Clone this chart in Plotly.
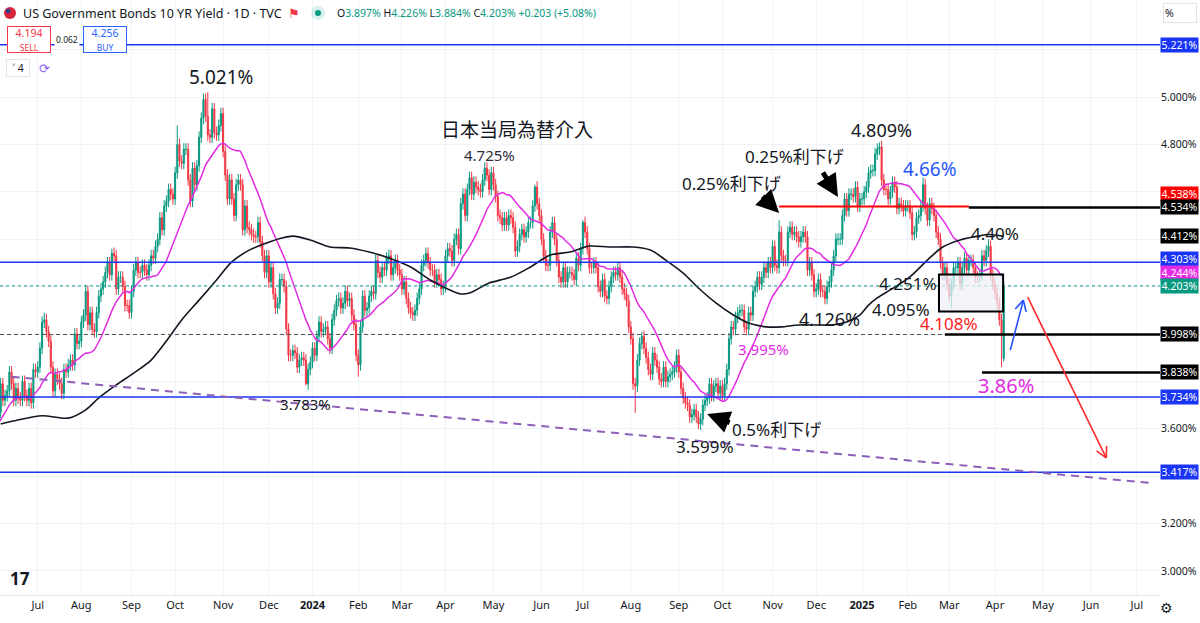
import numpy as np
import pandas as pd
import plotly.graph_objects as go

# Daily closes of the US 10Y yield (%), one list per month
c_2023_05 = [3.51, 3.52, 3.44, 3.39, 3.46, 3.51, 3.54, 3.57, 3.64, 3.67, 3.72, 3.69, 3.74, 3.82, 3.80, 3.69, 3.64]
c_2023_06 = [3.60, 3.69, 3.69, 3.67, 3.79, 3.72, 3.74, 3.76, 3.84, 3.79, 3.72, 3.77, 3.73, 3.72, 3.80, 3.74, 3.72,
             3.77, 3.71, 3.85, 3.84]
c_2023_07 = [3.86, 3.94, 4.05, 4.06, 4.01, 3.97, 3.86, 3.76, 3.83, 3.81, 3.79, 3.75, 3.85, 3.84, 3.87, 3.89, 3.87,
             4.00, 3.96, 3.97]
c_2023_08 = [4.05, 4.08, 4.18, 4.04, 4.09, 4.02, 4.01, 4.09, 4.16, 4.19, 4.22, 4.26, 4.30, 4.25, 4.34, 4.33, 4.19,
             4.24, 4.24, 4.20, 4.12, 4.12, 4.09]
c_2023_09 = [4.18, 4.27, 4.30, 4.26, 4.26, 4.29, 4.27, 4.25, 4.29, 4.33, 4.32, 4.37, 4.40, 4.49, 4.44, 4.54, 4.56,
             4.61, 4.59, 4.57]
c_2023_10 = [4.68, 4.80, 4.73, 4.72, 4.78, 4.78, 4.65, 4.56, 4.70, 4.63, 4.71, 4.83, 4.91, 4.99, 4.92, 4.84, 4.83,
             4.95, 4.85, 4.84, 4.88, 4.93]
c_2023_11 = [4.77, 4.67, 4.57, 4.65, 4.57, 4.50, 4.63, 4.65, 4.63, 4.44, 4.54, 4.45, 4.44, 4.42, 4.41, 4.41, 4.47,
             4.39, 4.33, 4.26, 4.33]
c_2023_12 = [4.22, 4.28, 4.17, 4.11, 4.13, 4.23, 4.23, 4.20, 4.02, 3.91, 3.91, 3.93, 3.92, 3.86, 3.89, 3.90, 3.89,
             3.79, 3.85, 3.88]
c_2024_01 = [3.94, 3.91, 3.99, 4.05, 4.01, 4.02, 4.03, 3.98, 3.94, 4.06, 4.10, 4.14, 4.15, 4.11, 4.13, 4.18, 4.14,
             4.15, 4.08, 4.04, 3.91]
c_2024_02 = [3.87, 4.03, 4.16, 4.10, 4.11, 4.16, 4.18, 4.17, 4.31, 4.26, 4.24, 4.28, 4.27, 4.32, 4.33, 4.25, 4.28,
             4.31, 4.27, 4.25]
c_2024_03 = [4.19, 4.22, 4.15, 4.11, 4.09, 4.08, 4.10, 4.15, 4.19, 4.29, 4.31, 4.34, 4.30, 4.27, 4.27, 4.22, 4.25,
             4.23, 4.19, 4.20]
c_2024_04 = [4.33, 4.36, 4.35, 4.31, 4.40, 4.42, 4.36, 4.55, 4.59, 4.50, 4.61, 4.66, 4.59, 4.64, 4.62, 4.61, 4.60,
             4.65, 4.70, 4.67, 4.61, 4.68]
c_2024_05 = [4.63, 4.58, 4.50, 4.49, 4.46, 4.49, 4.46, 4.50, 4.49, 4.45, 4.35, 4.37, 4.42, 4.44, 4.41, 4.43, 4.47,
             4.47, 4.54, 4.62, 4.55, 4.50]
c_2024_06 = [4.40, 4.33, 4.29, 4.29, 4.43, 4.47, 4.40, 4.31, 4.24, 4.22, 4.28, 4.22, 4.26, 4.26, 4.25, 4.23, 4.32,
             4.29, 4.36]
c_2024_07 = [4.47, 4.43, 4.36, 4.28, 4.28, 4.30, 4.28, 4.20, 4.18, 4.23, 4.16, 4.15, 4.20, 4.24, 4.26, 4.25, 4.28,
             4.24, 4.19, 4.17, 4.14, 4.03]
c_2024_08 = [3.98, 3.79, 3.78, 3.89, 3.96, 3.99, 3.94, 3.90, 3.85, 3.83, 3.92, 3.89, 3.86, 3.81, 3.80, 3.86, 3.80,
             3.82, 3.83, 3.84, 3.86, 3.91]
c_2024_09 = [3.84, 3.77, 3.73, 3.71, 3.70, 3.65, 3.66, 3.68, 3.65, 3.62, 3.64, 3.70, 3.72, 3.73, 3.79, 3.74, 3.78,
             3.79, 3.75, 3.78]
c_2024_10 = [3.74, 3.79, 3.85, 3.98, 4.03, 4.02, 4.07, 4.09, 4.10, 4.10, 4.03, 4.02, 4.09, 4.08, 4.18, 4.20, 4.24,
             4.21, 4.24, 4.28, 4.26, 4.30, 4.28]
c_2024_11 = [4.37, 4.29, 4.28, 4.43, 4.33, 4.31, 4.31, 4.43, 4.45, 4.42, 4.43, 4.41, 4.39, 4.41, 4.43, 4.41, 4.27,
             4.30, 4.25, 4.18]
c_2024_12 = [4.19, 4.23, 4.18, 4.18, 4.15, 4.20, 4.22, 4.27, 4.33, 4.40, 4.40, 4.40, 4.50, 4.57, 4.52, 4.59, 4.59,
             4.58, 4.62, 4.54, 4.57]
c_2025_01 = [4.57, 4.60, 4.62, 4.68, 4.69, 4.69, 4.76, 4.78, 4.79, 4.65, 4.61, 4.61, 4.57, 4.60, 4.64, 4.62, 4.53,
             4.55, 4.54, 4.52, 4.54]
c_2025_02 = [4.54, 4.51, 4.42, 4.43, 4.49, 4.50, 4.54, 4.63, 4.53, 4.48, 4.55, 4.53, 4.50, 4.43, 4.40, 4.30, 4.25,
             4.28, 4.21]
c_2025_03 = [4.16, 4.21, 4.28, 4.28, 4.30, 4.21, 4.28, 4.32, 4.27, 4.31, 4.31, 4.28, 4.24, 4.24, 4.25, 4.33, 4.31,
             4.35, 4.37, 4.25, 4.21]
c_2025_04 = [4.17, 4.13, 4.06, 4.00, 4.203]

# Holidays with no bar on the chart
holidays = ["2023-05-29", "2023-06-19", "2023-07-04", "2023-09-04", "2023-11-23", "2023-12-25",
            "2024-01-01", "2024-01-15", "2024-02-19", "2024-03-29", "2024-05-27", "2024-06-19",
            "2024-07-04", "2024-09-02", "2024-11-28", "2024-12-25", "2025-01-01", "2025-01-20",
            "2025-02-17"]

# Read-off extremes (wick tips) and the last bar's open
high_dates = ["2023-07-07", "2023-08-21", "2023-10-03", "2023-10-23", "2024-04-25", "2024-05-29",
              "2024-07-01", "2024-08-08", "2024-11-06", "2025-01-14", "2025-02-12", "2025-03-27", "2025-04-07"]
high_vals = [4.09, 4.36, 4.88, 5.021, 4.725, 4.63, 4.48, 4.01, 4.48, 4.809, 4.66, 4.40, 4.226]
low_dates = ["2023-12-27", "2024-02-01", "2024-08-05", "2024-09-16", "2024-12-06", "2025-03-04",
             "2025-04-04", "2025-04-07"]
low_vals = [3.783, 3.82, 3.667, 3.599, 4.126, 4.108, 3.86, 3.884]
last_open = 3.897

# Black moving average
ma_dates = ["2023-06-07", "2023-06-16", "2023-07-06", "2023-07-24", "2023-08-03", "2023-08-11", "2023-08-23",
            "2023-09-05", "2023-09-15", "2023-09-27", "2023-10-05", "2023-10-17", "2023-10-27", "2023-11-07",
            "2023-11-17", "2023-11-30", "2023-12-11", "2023-12-18", "2023-12-29", "2024-01-12", "2024-01-26",
            "2024-02-08", "2024-02-22", "2024-03-07", "2024-03-20", "2024-04-03", "2024-04-10", "2024-04-16",
            "2024-04-29", "2024-05-13", "2024-05-24", "2024-06-07", "2024-06-21", "2024-07-05", "2024-07-18",
            "2024-08-02", "2024-08-14", "2024-08-23", "2024-09-05", "2024-09-16", "2024-09-26", "2024-10-08",
            "2024-10-17", "2024-10-29", "2024-11-07", "2024-11-19", "2024-12-02", "2024-12-11", "2024-12-20",
            "2024-12-31", "2025-01-07", "2025-01-13", "2025-01-22", "2025-02-04", "2025-02-14", "2025-02-26",
            "2025-03-10", "2025-03-20", "2025-03-27", "2025-04-07"]
ma_vals = [3.62, 3.635, 3.655, 3.645, 3.68, 3.73, 3.785, 3.835, 3.89, 3.983, 4.059, 4.143, 4.228, 4.304,
           4.354, 4.384, 4.405, 4.413, 4.397, 4.367, 4.363, 4.346, 4.321, 4.283, 4.228, 4.186, 4.169, 4.173,
           4.215, 4.24, 4.283, 4.333, 4.346, 4.371, 4.367, 4.367, 4.354, 4.312, 4.257, 4.194, 4.131, 4.08,
           4.046, 4.03, 4.03, 4.038, 4.038, 4.038, 4.051, 4.08, 4.122, 4.152, 4.186, 4.241, 4.312, 4.367,
           4.397, 4.413, 4.42, 4.412]

# Horizontal levels drawn on the chart
blue_levels = [5.221, 4.303, 3.734, 3.417]
red_level = 4.538
black_levels = [4.534, 3.998, 3.838]
box_top, box_bottom = 4.251, 4.095

month_names = ["Jan", "Feb", "Mar", "Apr", "May", "Jun", "Jul", "Aug", "Sep", "Oct", "Nov", "Dec"]
y_ticks = [3.0, 3.2, 3.4, 3.6, 3.8, 4.0, 4.2, 4.4, 4.6, 4.8, 5.0, 5.2]
y_hidden = [3.4, 3.8, 4.0, 4.2, 4.4, 4.6, 5.2]  # labels covered by the price boxes

# ---------------------------------------------------------------------------
months = [c_2023_05, c_2023_06, c_2023_07, c_2023_08, c_2023_09, c_2023_10, c_2023_11, c_2023_12,
          c_2024_01, c_2024_02, c_2024_03, c_2024_04, c_2024_05, c_2024_06, c_2024_07, c_2024_08,
          c_2024_09, c_2024_10, c_2024_11, c_2024_12, c_2025_01, c_2025_02, c_2025_03, c_2025_04]
closes = [v for m in months for v in m]

days = pd.bdate_range("2023-05-08", "2025-04-07")
days = days[~days.isin(pd.to_datetime(holidays))]
n = min(len(days), len(closes))
if len(days) != len(closes):
    print("warning: days", len(days), "closes", len(closes))
closes = closes[:n]
days = days[:n]
all_days = days.append(pd.bdate_range("2025-04-08", "2025-08-29"))


def ix(d):
    return int(all_days.searchsorted(pd.Timestamp(d)))


opens = [closes[0]] + closes[:-1]
opens[-1] = last_open
wick = 0.025
highs = [max(o, c) + wick for o, c in zip(opens, closes)]
lows = [min(o, c) - wick for o, c in zip(opens, closes)]
for d, v in zip(high_dates, high_vals):
    highs[ix(d)] = v
for d, v in zip(low_dates, low_vals):
    lows[ix(d)] = v

xs = list(range(n))
ma20 = pd.Series(closes).rolling(20).mean()

UP, DN = "#089981", "#f23645"
BLUE, MAG, RED = "#1a35f5", "#e32be3", "#ff1a1a"
FONT = "Noto Sans, Noto Sans CJK JP, sans-serif"

PLOT_W, PLOT_H = 1160, 595
x_range = [20.7, 552.66]
y_range = [2.8987, 5.4093]
sx = PLOT_W / (x_range[1] - x_range[0])
sy = PLOT_H / (y_range[1] - y_range[0])

fig = go.Figure()
fig.add_trace(go.Candlestick(
    x=xs, open=opens, high=highs, low=lows, close=closes,
    increasing=dict(line=dict(color=UP, width=1), fillcolor=UP),
    decreasing=dict(line=dict(color=DN, width=1), fillcolor=DN),
    whiskerwidth=0, hoverinfo="skip", showlegend=False))
fig.add_trace(go.Scatter(x=xs, y=ma20, mode="lines", line=dict(color=MAG, width=1.5),
                         hoverinfo="skip", showlegend=False))
fig.add_trace(go.Scatter(x=[ix(d) for d in ma_dates], y=ma_vals, mode="lines",
                         line=dict(color="#131722", width=1.6, shape="spline", smoothing=0.8),
                         hoverinfo="skip", showlegend=False))

shapes = []
# current price dotted line
shapes.append(dict(type="line", xref="paper", x0=0, x1=1, y0=closes[-1], y1=closes[-1],
                   line=dict(color=UP, width=1, dash="dot")))
for lv in blue_levels:
    shapes.append(dict(type="line", xref="paper", x0=0, x1=1, y0=lv, y1=lv, line=dict(color=BLUE, width=1.5)))
shapes.append(dict(type="line", x0=ix("2024-11-06"), x1=ix("2025-03-14"), y0=red_level, y1=red_level,
                   line=dict(color="#ff0000", width=2)))
shapes.append(dict(type="line", x0=ix("2025-03-14"), x1=x_range[1], y0=black_levels[0], y1=black_levels[0],
                   line=dict(color="#000000", width=2.5)))
shapes.append(dict(type="line", x0=x_range[0], x1=ix("2025-02-27"), y0=black_levels[1], y1=black_levels[1],
                   line=dict(color="#555555", width=1, dash="4px,3px")))
shapes.append(dict(type="line", x0=ix("2025-02-27"), x1=x_range[1], y0=black_levels[1], y1=black_levels[1],
                   line=dict(color="#000000", width=2.5)))
shapes.append(dict(type="line", x0=ix("2025-03-24"), x1=x_range[1], y0=black_levels[2], y1=black_levels[2],
                   line=dict(color="#000000", width=2.5)))
# descending trend line
shapes.append(dict(type="line", x0=ix("2023-06-14"), y0=3.82, x1=ix("2025-07-11"), y1=3.37,
                   line=dict(color="#8c5fb8", width=2, dash="8px,6px")))
# consolidation box
shapes.append(dict(type="rect", x0=ix("2025-02-24") + 0.3, x1=ix("2025-04-07") - 0.3, y0=box_bottom, y1=box_top,
                   line=dict(color="#000000", width=2), fillcolor="rgba(238,240,247,0.75)"))


def arrow(x0, y0, x1, y1, color, head=12, spread=28):
    out = [dict(type="line", x0=x0, y0=y0, x1=x1, y1=y1, line=dict(color=color, width=1.6))]
    ang = np.arctan2((y1 - y0) * sy, (x1 - x0) * sx)
    for s in (1, -1):
        a = ang + np.pi - s * np.radians(spread)
        out.append(dict(type="line", x0=x1, y0=y1, x1=x1 + head * np.cos(a) / sx, y1=y1 + head * np.sin(a) / sy,
                        line=dict(color=color, width=1.6)))
    return out


shapes += arrow(ix("2025-04-10"), 3.932, ix("2025-04-18"), 4.143, "#2050ff")
shapes += arrow(ix("2025-04-22"), 4.156, ix("2025-06-11"), 3.477, "#ff2a2a")


# header decorations
def pbox(px0, py0, px1, py1):
    return dict(x0=px0 / PLOT_W, x1=px1 / PLOT_W, y0=1 - py1 / PLOT_H, y1=1 - py0 / PLOT_H)


shapes.append(dict(type="circle", xref="paper", yref="paper", fillcolor="#d7263d",
                   line=dict(color="#d7263d", width=0), **pbox(4, 7, 16, 19)))
shapes.append(dict(type="rect", xref="paper", yref="paper", fillcolor="#2c3e8f",
                   line=dict(width=0), **pbox(6, 9, 10, 13)))
shapes.append(dict(type="circle", xref="paper", yref="paper", fillcolor="rgba(8,153,129,0.15)",
                   line=dict(width=0), **pbox(311, 6, 325, 20)))
shapes.append(dict(type="circle", xref="paper", yref="paper", fillcolor=UP,
                   line=dict(width=0), **pbox(315, 10, 321, 16)))

ann = []


def note(text, d, y, size, color="#131722", **kw):
    ann.append(dict(x=ix(d), y=y, text=text, showarrow=False, xanchor="center", yanchor="middle",
                    font=dict(family=FONT, size=size, color=color), borderpad=0, **kw))


note("5.021%", "2023-10-31", 5.084, 19)
note("日本当局為替介入", "2024-05-16", 4.862, 19)
note("4.725%", "2024-04-29", 4.755, 15, "#2a2e39")
note("3.783%", "2023-12-27", 3.705, 15)
note("0.25%利下げ", "2024-10-07", 4.637, 17)
note("0.25%利下げ", "2024-11-15", 4.751, 17)
note("4.809%", "2025-01-15", 4.861, 18)
note("4.66%", "2025-02-18", 4.696, 19, "#2456ff")
note("4.40%", "2025-04-01", 4.426, 17)
note("4.251%", "2025-02-03", 4.211, 17)
note("4.095%", "2025-01-29", 4.105, 17)
note("4.126%", "2024-12-10", 4.063, 18)
note("3.995%", "2024-10-28", 3.937, 15, MAG)
note("4.108%", "2025-03-03", 4.046, 17, RED)
note("3.86%", "2025-04-08", 3.781, 20, MAG)
note("3.599%", "2024-09-19", 3.527, 17)
note("0.5%利下げ", "2024-11-05", 3.599, 17)

# thick black pointer arrows
for d, y, ax, ay in [("2024-11-06", 4.511, -18, -18), ("2024-12-16", 4.578, -16, -26),
                     ("2024-09-20", 3.662, 24, 9)]:
    ann.append(dict(x=ix(d), y=y, text="", showarrow=True, arrowhead=2, arrowsize=0.9, arrowwidth=5,
                    arrowcolor="#000000", ax=ax, ay=ay, standoff=0))

# price scale labels
scale_labels = [(blue_levels[0], BLUE, 0), (red_level, "#ff0000", 12.5), (black_levels[0], "#000000", 0),
                (ma_vals[-1], "#000000", 0), (blue_levels[1], BLUE, 3), (float(ma20.iloc[-1]), MAG, 3),
                (closes[-1], UP, 0), (black_levels[1], "#000000", 0), (black_levels[2], "#000000", 0),
                (blue_levels[2], BLUE, 0), (blue_levels[3], BLUE, 0)]
for v, bg, sh in scale_labels:
    ann.append(dict(xref="paper", x=1, xanchor="left", y=v, yshift=sh, text=f"{v:.3f}%", showarrow=False,
                    bgcolor=bg, width=36, height=13, borderpad=0.5,
                    font=dict(family=FONT, size=10.5, color="#ffffff")))


def hdr(text, px, py, size, color="#131722", anchor="left", **kw):
    ann.append(dict(xref="paper", yref="paper", x=px / PLOT_W, y=1 - py / PLOT_H, text=text, showarrow=False,
                    xanchor=anchor, yanchor="middle", font=dict(family=FONT, size=size, color=color), **kw))


hdr("US Government Bonds 10 YR Yield · 1D · TVC", 21, 13, 12.5)
hdr("⚑", 286, 13, 13, "#f23645")
g = "<span style='color:#089981'>%s</span>"
hdr("O" + g % "3.897%" + " H" + g % "4.226%" + " L" + g % "3.884%" + " C" + g % "4.203%" + " "
    + g % "+0.203 (+5.08%)", 335, 13, 10.5)
hdr("4.194<br><span style='font-size:8.5px'>SELL</span>", 29, 40, 10.5, "#f23645", "center",
    bgcolor="#ffffff", bordercolor="#f23645", borderwidth=1, width=40, height=23)
hdr("0.062", 67, 40, 8.5, "#131722", "center", bgcolor="#ffffff")
hdr("4.256<br><span style='font-size:8.5px'>BUY</span>", 105, 40, 10.5, "#2962ff", "center",
    bgcolor="#ffffff", bordercolor="#2962ff", borderwidth=1, width=40, height=23)
hdr("˅ 4", 18, 68, 10.5, "#131722", "center", bgcolor="#ffffff", bordercolor="#e0e3eb", borderwidth=1,
    width=20, height=14)
hdr("⟳", 44, 68, 13, "#8a63f5", "center")
hdr("%", 1163, 13, 10.5, "#131722", "left", bgcolor="#ffffff", bordercolor="#e0e3eb", borderwidth=1,
    width=30, height=16, align="left")
hdr("<b>17</b>", 20, 578, 17, "#131722", "center")
hdr("⚙", 1166, 607, 14, "#131722", "center")

# month ticks at the first bar of each month
tick_vals, tick_text = [], []
prev = None
for i, d in enumerate(all_days):
    key = (d.year, d.month)
    if key != prev:
        prev = key
        tick_vals.append(i)
        tick_text.append(f"<b>{d.year}</b>" if d.month == 1 else month_names[d.month - 1])

y_text = ["" if t in y_hidden else f"{t:.3f}%" for t in y_ticks]

fig.update_layout(
    width=1200, height=623, margin=dict(l=0, r=40, t=0, b=28, autoexpand=False),
    paper_bgcolor="#ffffff", plot_bgcolor="#ffffff", showlegend=False,
    font=dict(family=FONT, size=11, color="#131722"),
    shapes=shapes, annotations=ann,
    xaxis=dict(range=x_range, tickvals=tick_vals, ticktext=tick_text, showgrid=True, gridcolor="#f0f3fa",
               zeroline=False, ticks="", rangeslider=dict(visible=False), fixedrange=True, automargin=False,
               showline=True, linecolor="#e0e3eb", tickfont=dict(size=11, color="#131722")),
    yaxis=dict(range=y_range, side="right", tickvals=y_ticks, ticktext=y_text, automargin=False,
               showgrid=True, gridcolor="#f0f3fa", zeroline=False, ticks="", fixedrange=True,
               tickfont=dict(size=10.5, color="#131722")),
)

# the page body has a default 8px margin; drop it so the figure fills the window
fig.write_html("out.html", config={"displayModeBar": False},
               post_script="document.body.style.margin='0';")
